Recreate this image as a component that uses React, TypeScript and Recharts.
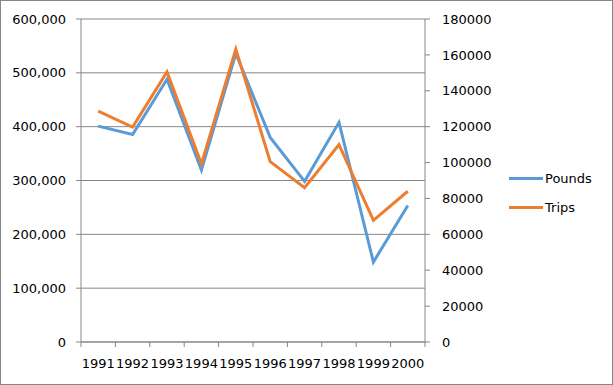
import React from 'react';
import { LineChart, Line, XAxis, YAxis, CartesianGrid } from 'recharts';

const years = ['1991', '1992', '1993', '1994', '1995', '1996', '1997', '1998', '1999', '2000'];
const pounds = [401000, 385500, 488000, 319500, 536000, 380000, 298500, 408000, 148500, 253500];
const trips = [128700, 119800, 150500, 99300, 163200, 100500, 86000, 110000, 67800, 84000];
const poundTicks = [0, 100000, 200000, 300000, 400000, 500000, 600000];
const tripTicks = [0, 20000, 40000, 60000, 80000, 100000, 120000, 140000, 160000, 180000];

const W = 613;
const H = 385;
const PLOT_LEFT = 81;
const PLOT_RIGHT = 425;
const BAND = (PLOT_RIGHT - PLOT_LEFT) / years.length;
const GRID = '#868686';
const FONT = '"DejaVu Sans", sans-serif';
const BLUE = '#5B9BD5';
const ORANGE = '#ED7D31';

const data = years.map((year, i) => ({ year, pounds: pounds[i], trips: trips[i] }));

const X_TICK_SIZE = 5;
const X_TICK_MARGIN = 12;

// Excel puts the category tick marks between the labels, not under them
function YearTick(props: any) {
  const { x, y, payload, index } = props;
  const axisY = y - X_TICK_MARGIN - X_TICK_SIZE;
  const half = BAND / 2;
  return (
    <g>
      <line x1={x - half} x2={x - half} y1={axisY} y2={axisY + X_TICK_SIZE} stroke={GRID} />
      {index === years.length - 1 && (
        <line x1={x + half} x2={x + half} y1={axisY} y2={axisY + X_TICK_SIZE} stroke={GRID} />
      )}
      <text x={x} y={y} dy="0.71em" textAnchor="middle" fill="#000" fontSize={13} fontFamily={FONT}>
        {payload.value}
      </text>
    </g>
  );
}

const legendItems = [
  { name: 'Pounds', color: BLUE },
  { name: 'Trips', color: ORANGE },
];

export default function App() {
  const tickStyle = { fill: '#000', fontSize: 13, fontFamily: FONT };
  return (
    <div style={{ position: 'absolute', left: 0, top: 0, width: W, height: H, background: '#fff' }}>
      <LineChart
        width={W}
        height={H}
        data={data}
        margin={{ top: 19, left: 0, right: W - PLOT_RIGHT - 80, bottom: H - 342 - 30 }}
      >
        <CartesianGrid vertical={false} stroke={GRID} yAxisId="left" />
        <XAxis
          dataKey="year"
          scale="band"
          height={30}
          stroke={GRID}
          tickLine={false}
          tickSize={X_TICK_SIZE}
          tickMargin={X_TICK_MARGIN}
          interval={0}
          tick={<YearTick />}
        />
        <YAxis
          yAxisId="left"
          width={PLOT_LEFT}
          domain={[0, 600000]}
          ticks={poundTicks}
          stroke={GRID}
          tickSize={5}
          tickMargin={10}
          tick={tickStyle}
          tickFormatter={(v: number) => v.toLocaleString('en-US')}
        />
        <YAxis
          yAxisId="right"
          orientation="right"
          width={80}
          domain={[0, 180000]}
          ticks={tripTicks}
          stroke={GRID}
          tickSize={5}
          tickMargin={12}
          tick={tickStyle}
        />
        <Line
          yAxisId="left"
          dataKey="pounds"
          type="linear"
          stroke={BLUE}
          strokeWidth={3}
          dot={false}
          isAnimationActive={false}
        />
        <Line
          yAxisId="right"
          dataKey="trips"
          type="linear"
          stroke={ORANGE}
          strokeWidth={3}
          dot={false}
          isAnimationActive={false}
        />
      </LineChart>
      <div style={{ position: 'absolute', left: 509, top: 168, fontFamily: FONT, fontSize: 13, color: '#000' }}>
        {legendItems.map((item) => (
          <div key={item.name} style={{ display: 'flex', alignItems: 'center', height: 20, marginBottom: 9 }}>
            <span style={{ display: 'inline-block', width: 34, height: 3, background: item.color, marginRight: 2 }} />
            <span>{item.name}</span>
          </div>
        ))}
      </div>
      <div
        style={{
          position: 'absolute',
          left: 0,
          top: 0,
          width: W,
          height: H,
          boxSizing: 'border-box',
          border: `1px solid ${GRID}`,
          pointerEvents: 'none',
        }}
      />
    </div>
  );
}
